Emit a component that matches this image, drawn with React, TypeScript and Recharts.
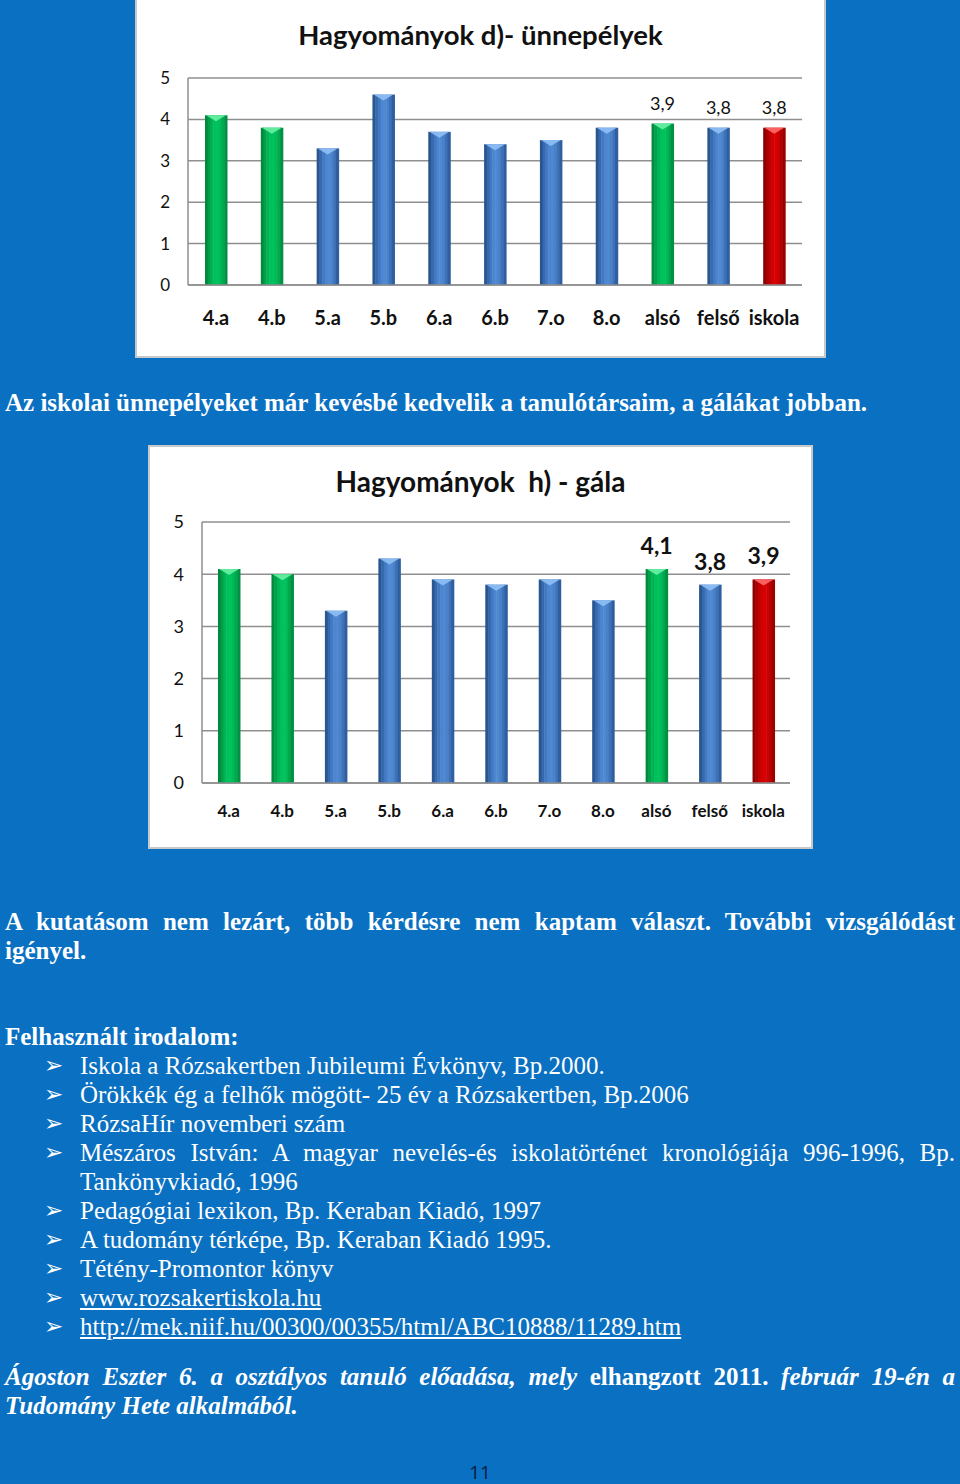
import { BarChart, Bar, XAxis, YAxis, CartesianGrid, LabelList } from 'recharts';

const categories = ['4.a', '4.b', '5.a', '5.b', '6.a', '6.b', '7.o', '8.o', 'alsó', 'felső', 'iskola'];
const unnepelyek = [4.1, 3.8, 3.3, 4.6, 3.7, 3.4, 3.5, 3.8, 3.9, 3.8, 3.8];
const gala = [4.1, 4.0, 3.3, 4.3, 3.9, 3.8, 3.9, 3.5, 4.1, 3.8, 3.9];
const yTicks = [0, 1, 2, 3, 4, 5];
const labelledCategories = ['alsó', 'felső', 'iskola'];

const greenCats = ['4.a', '4.b', 'alsó'];
const redCats = ['iskola'];

const BLUE_BG = '#0a70c2';

// edge -> centre -> edge shades for the cylinder look
const palette = {
  blue: ['#2a5690', '#3669ad', '#4279c2', '#4c86cf', '#5089d2', '#4a82ca', '#3d72b8', '#2f5f9f'],
  green: ['#008a3c', '#00a04a', '#00b354', '#00c05c', '#00c35e', '#00ba58', '#00a84e', '#009242'],
  red: ['#8e0000', '#a80000', '#c00000', '#d20000', '#d80000', '#cc0000', '#b40000', '#9c0000'],
};
const bevelColor = { blue: '#8fc0f5', green: '#6aefa5', red: '#ff6a6a' };

function kindFor(cat: string): 'blue' | 'green' | 'red' {
  if (redCats.includes(cat)) return 'red';
  if (greenCats.includes(cat)) return 'green';
  return 'blue';
}

function buildRows(values: number[]) {
  return categories.map((c, i) => ({
    cat: c,
    value: values[i],
    lbl: labelledCategories.includes(c) ? values[i] : null,
  }));
}

function BevelBar(props: any) {
  const { x, y, width, height, payload } = props;
  if (!height || height <= 0 || !width || width <= 0) return null;
  const kind = kindFor(payload?.cat ?? '');
  const shades = palette[kind];
  const n = shades.length;
  const sw = width / n;
  const bevel = Math.min(6, height);
  return (
    <g>
      {shades.map((c, i) => (
        <rect key={i} x={x + i * sw} y={y} width={sw + 0.5} height={height} fill={c} />
      ))}
      <polygon
        points={`${x + 1},${y} ${x + width - 1},${y} ${x + width / 2},${y + bevel}`}
        fill={bevelColor[kind]}
        opacity={0.9}
      />
    </g>
  );
}

interface ChartBoxProps {
  title: string;
  values: number[];
  left: number;
  top: number;
  width: number;
  height: number;
  margin: { top: number; right: number; left: number; bottom: number };
  yAxisWidth: number;
  xAxisHeight: number;
  titleTop: number;
  titleFont: number;
  yFont: number;
  xFont: number;
  xMargin: number;
  labelFont: number;
  labelOffset: number;
  labelBold: boolean;
}

function ChartBox(p: ChartBoxProps) {
  const rows = buildRows(p.values);
  return (
    <div
      style={{
        position: 'absolute',
        left: p.left,
        top: p.top,
        width: p.width,
        height: p.height,
        background: '#fff',
        border: '2px solid #c8c8c8',
        boxSizing: 'border-box',
      }}
    >
      <div
        style={{
          position: 'absolute',
          left: 0,
          width: '100%',
          top: p.titleTop,
          textAlign: 'center',
          fontFamily: 'Lato, sans-serif',
          fontWeight: 700,
          fontSize: p.titleFont,
          color: '#111',
          lineHeight: '32px',
          whiteSpace: 'pre',
        }}
      >
        {p.title}
      </div>
      <div style={{ position: 'absolute', left: -2, top: -2 }}>
        <BarChart width={p.width} height={p.height} data={rows} margin={p.margin} barSize={22}>
          <CartesianGrid vertical={false} stroke="#8f8f8f" strokeWidth={1.5} />
          <XAxis
            dataKey="cat"
            height={p.xAxisHeight}
            tickLine={false}
            axisLine={{ stroke: '#8f8f8f', strokeWidth: 1.5 }}
            tickSize={0}
            tickMargin={p.xMargin}
            interval={0}
            tick={{ fontSize: p.xFont, fontWeight: 700, fill: '#111', fontFamily: 'Lato, sans-serif' }}
          />
          <YAxis
            width={p.yAxisWidth}
            domain={[0, 5]}
            ticks={yTicks}
            tickLine={false}
            axisLine={{ stroke: '#8f8f8f', strokeWidth: 1.5 }}
            tickSize={0}
            tickMargin={18}
            tick={{ fontSize: p.yFont, fill: '#111', fontFamily: 'Lato, sans-serif' }}
          />
          <Bar dataKey="value" fill="#4a82ca" isAnimationActive={false} shape={<BevelBar />}>
            <LabelList
              dataKey="lbl"
              position="top"
              offset={p.labelOffset}
              formatter={(v: any) => (v === null || v === undefined ? '' : String(v).replace('.', ','))}
              style={{
                fontSize: p.labelFont,
                fontWeight: p.labelBold ? 700 : 400,
                fill: '#111',
                fontFamily: 'Lato, sans-serif',
              }}
            />
          </Bar>
        </BarChart>
      </div>
    </div>
  );
}

const serif = '"Liberation Serif", "Times New Roman", serif';

const references = [
  'Iskola a Rózsakertben Jubileumi Évkönyv, Bp.2000.',
  'Örökkék ég a felhők mögött- 25 év a Rózsakertben, Bp.2006',
  'RózsaHír novemberi szám',
  'Mészáros István: A magyar nevelés-és iskolatörténet kronológiája 996-1996, Bp. Tankönyvkiadó, 1996',
  'Pedagógiai lexikon, Bp. Keraban Kiadó, 1997',
  'A tudomány térképe, Bp. Keraban Kiadó 1995.',
  'Tétény-Promontor könyv',
  'www.rozsakertiskola.hu',
  'http://mek.niif.hu/00300/00355/html/ABC10888/11289.htm',
];
const linkRefs = ['www.rozsakertiskola.hu', 'http://mek.niif.hu/00300/00355/html/ABC10888/11289.htm'];

export default function App() {
  return (
    <div
      style={{
        position: 'absolute',
        left: 0,
        top: 0,
        width: 960,
        height: 1484,
        background: BLUE_BG,
        overflow: 'hidden',
        color: '#fff',
      }}
    >
      <ChartBox
        title="Hagyományok d)- ünnepélyek"
        values={unnepelyek}
        left={135}
        top={-2}
        width={691}
        height={360}
        margin={{ top: 80, right: 24, left: 0, bottom: 0 }}
        yAxisWidth={53}
        xAxisHeight={73}
        titleTop={19}
        titleFont={27.5}
        yFont={17}
        xFont={20}
        xMargin={26}
        labelFont={18}
        labelOffset={14}
        labelBold={false}
      />

      <div
        style={{
          position: 'absolute',
          left: 5,
          top: 388,
          width: 950,
          fontFamily: serif,
          fontWeight: 700,
          fontSize: 25,
          lineHeight: '29px',
          whiteSpace: 'nowrap',
        }}
      >
        Az iskolai ünnepélyeket már kevésbé kedvelik a tanulótársaim, a gálákat jobban.
      </div>

      <ChartBox
        title="Hagyományok  h) - gála"
        values={gala}
        left={148}
        top={445}
        width={665}
        height={404}
        margin={{ top: 77, right: 23, left: 0, bottom: 0 }}
        yAxisWidth={54}
        xAxisHeight={66}
        titleTop={18}
        titleFont={28}
        yFont={18}
        xFont={17}
        xMargin={22}
        labelFont={23}
        labelOffset={15}
        labelBold={true}
      />

      <div
        style={{
          position: 'absolute',
          left: 5,
          top: 907,
          width: 950,
          fontFamily: serif,
          fontWeight: 700,
          fontSize: 25,
          lineHeight: '29px',
          textAlign: 'justify',
        }}
      >
        A kutatásom nem lezárt, több kérdésre nem kaptam választ. További vizsgálódást igényel.
      </div>

      <div
        style={{
          position: 'absolute',
          left: 5,
          top: 1022,
          width: 950,
          fontFamily: serif,
          fontWeight: 700,
          fontSize: 25,
          lineHeight: '29px',
        }}
      >
        Felhasznált irodalom:
      </div>

      <div style={{ position: 'absolute', left: 0, top: 1051, width: 955 }}>
        {references.map((r) => (
          <div key={r} style={{ position: 'relative', paddingLeft: 80, fontFamily: serif, fontSize: 25, lineHeight: '29px', textAlign: 'justify' }}>
            <span style={{ position: 'absolute', left: 44, top: 0, fontFamily: '"DejaVu Sans", sans-serif', fontSize: 23 }}>➢</span>
            {linkRefs.includes(r) ? <span style={{ textDecoration: 'underline' }}>{r}</span> : r}
          </div>
        ))}
      </div>

      <div
        style={{
          position: 'absolute',
          left: 5,
          top: 1362,
          width: 950,
          fontFamily: serif,
          fontWeight: 700,
          fontStyle: 'italic',
          fontSize: 25,
          lineHeight: '29px',
          textAlign: 'justify',
        }}
      >
        Ágoston Eszter 6. a osztályos tanuló előadása, mely <span style={{ fontStyle: 'normal' }}>elhangzott 2011.</span> február 19-én a Tudomány Hete alkalmából.
      </div>

      <div
        style={{
          position: 'absolute',
          left: 0,
          width: 960,
          top: 1462,
          textAlign: 'center',
          fontFamily: '"Open Sans", sans-serif',
          fontSize: 19,
          lineHeight: '20px',
          color: '#0a1a40',
        }}
      >
        11
      </div>
    </div>
  );
}
